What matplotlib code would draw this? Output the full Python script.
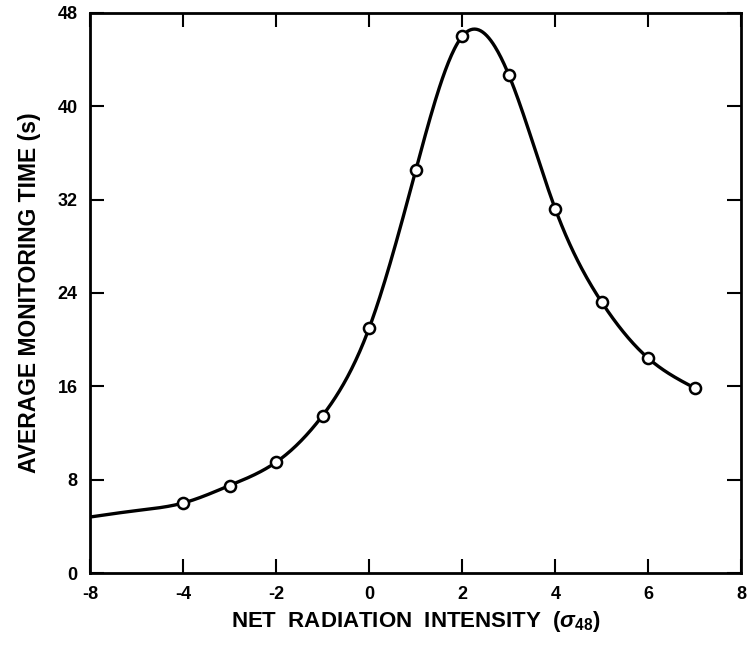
import numpy as np
import matplotlib
matplotlib.use('Agg')
import matplotlib.pyplot as plt

# measured points
intensity = [-4, -3, -2, -1, 0, 1, 2, 3, 4, 5, 6, 7]
monitor_time = [6.0, 7.5, 9.5, 13.5, 21.0, 34.5, 46.0, 42.7, 31.2, 23.2, 18.4, 15.85]

# smooth curve knots
curve_x = [-6, -5, -4, -3, -2, -1, 0, 1, 2, 3, 4, 5, 6, 7]
curve_y = [4.8, 5.35, 6.0, 7.5, 9.5, 13.5, 21.0, 34.5, 46.0, 42.7, 31.2, 23.2, 18.4, 15.85]

xticks = [-6, -4, -2, 0, 2, 4, 6, 8]
xtick_labels = ['-8', '-4', '-2', '0', '2', '4', '6', '8']
yticks = [0, 8, 16, 24, 32, 40, 48]


def natural_spline(x, y, xs):
    x = np.asarray(x, float)
    y = np.asarray(y, float)
    n = len(x)
    h = np.diff(x)
    A = np.zeros((n, n))
    b = np.zeros(n)
    A[0, 0] = 1
    A[-1, -1] = 1
    for i in range(1, n - 1):
        A[i, i - 1] = h[i - 1]
        A[i, i] = 2 * (h[i - 1] + h[i])
        A[i, i + 1] = h[i]
        b[i] = 6 * ((y[i + 1] - y[i]) / h[i] - (y[i] - y[i - 1]) / h[i - 1])
    M = np.linalg.solve(A, b)
    idx = np.clip(np.searchsorted(x, xs) - 1, 0, n - 2)
    x0, x1 = x[idx], x[idx + 1]
    hh = x1 - x0
    t0, t1 = x1 - xs, xs - x0
    return (M[idx] * t0 ** 3 / (6 * hh) + M[idx + 1] * t1 ** 3 / (6 * hh)
            + (y[idx] / hh - M[idx] * hh / 6) * t0
            + (y[idx + 1] / hh - M[idx + 1] * hh / 6) * t1)


plt.rcParams['font.family'] = 'Liberation Sans'
plt.rcParams['font.weight'] = 'bold'
plt.rcParams['axes.labelweight'] = 'bold'
plt.rcParams['mathtext.fontset'] = 'custom'
plt.rcParams['mathtext.rm'] = 'Liberation Sans:bold'
plt.rcParams['mathtext.it'] = 'Liberation Sans:italic:bold'

fig = plt.figure(figsize=(7.47, 6.48), dpi=100)
ax = fig.add_axes([0.1205, 0.1157, 0.872, 0.8643])

xs = np.linspace(curve_x[0], curve_x[-1], 600)
ax.plot(xs, natural_spline(curve_x, curve_y, xs), color='black', lw=2.4, zorder=2)
ax.plot(intensity, monitor_time, 'o', ms=8, mfc='white', mec='black', mew=1.8, zorder=3)

ax.set_xlim(-6, 8)
ax.set_ylim(0, 48)
ax.set_xticks(xticks)
ax.set_xticklabels(xtick_labels)
ax.set_yticks(yticks)
ax.tick_params(direction='in', length=10, width=1.5, top=True, right=True,
               labelsize=13, pad=9)
for s in ax.spines.values():
    s.set_linewidth(2)

ax.set_xlabel(r'NET  RADIATION  INTENSITY  ($\sigma_{48}$)', fontsize=16, labelpad=5)
ax.set_ylabel('AVERAGE MONITORING TIME (s)', fontsize=16.5, labelpad=12)

plt.savefig('out.png', dpi=100)
